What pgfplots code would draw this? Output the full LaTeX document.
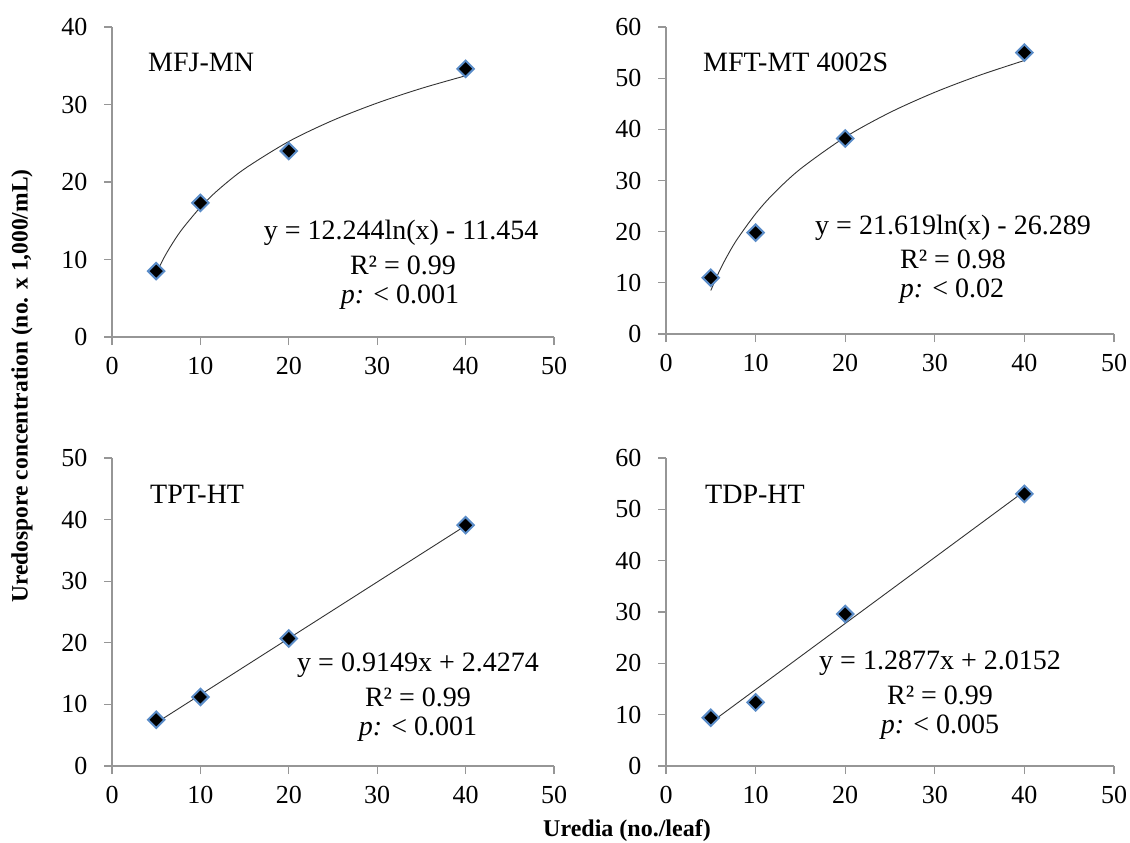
\documentclass[border=0pt]{standalone}
\usepackage{fontspec}
\setmainfont{Liberation Serif}
\usepackage{pgfplots}
\pgfplotsset{compat=1.18}
\definecolor{mkblue}{RGB}{90,140,200}
\definecolor{axgray}{RGB}{150,150,150}

\pgfplotsset{panel/.style={
    scale only axis, anchor=south west, clip=false,
    axis x line*=bottom, axis y line*=left,
    axis line style={draw=axgray, line width=1.3pt},
    every tick/.style={draw=axgray, line width=1.3pt},
    tick align=outside, major tick length=8pt,
    xmin=0, xmax=50, xtick={0,10,...,50}, ymin=0,
    tick label style={font=\fontsize{26}{28}\selectfont},
    /pgf/number format/assume math mode=true,
    xticklabel style={yshift=-9pt}, yticklabel style={xshift=-13pt},
  },
  pts/.style={only marks, mark=square*, mark size=5.8pt,
    mark options={rotate=45, fill=black, draw=mkblue, line width=2pt}},
  trend/.style={no marks, smooth, draw=black!80, line width=0.9pt},
}

\begin{document}
\begin{tikzpicture}
\useasboundingbox (0,0) rectangle (1130pt,-843pt);

% MFJ-MN
\begin{axis}[panel, at={(112pt,-337pt)}, width=442pt, height=310pt,
    ymax=40, ytick={0,10,...,40}]
  \addplot[trend] coordinates {(5,8.25) (6,10.48) (7,12.37) (8,14.01) (10,16.74)
    (12,18.97) (15,21.70) (20,25.23) (25,27.96) (30,30.19) (35,32.08) (40,33.71)};
  \addplot[pts] coordinates {(5,8.5) (10,17.3) (20,24.0) (40,34.6)};
\end{axis}

% MFT-MT 4002S
\begin{axis}[panel, at={(666pt,-334pt)}, width=448pt, height=307pt,
    ymax=60, ytick={0,10,...,60}]
  \addplot[trend] coordinates {(5,8.51) (6,12.45) (7,15.78) (8,18.67) (10,23.49)
    (12,27.43) (15,32.26) (20,38.48) (25,43.30) (30,47.24) (35,50.57) (40,53.46)};
  \addplot[pts] coordinates {(5,11.0) (10,19.8) (20,38.2) (40,55.0)};
\end{axis}

% TPT-HT
\begin{axis}[panel, at={(112pt,-766pt)}, width=442pt, height=308pt,
    ymax=50, ytick={0,10,...,50}]
  \addplot[trend] coordinates {(5,7.00) (40,39.02)};
  \addplot[pts] coordinates {(5,7.5) (10,11.2) (20,20.7) (40,39.1)};
\end{axis}

% TDP-HT
\begin{axis}[panel, at={(666pt,-766pt)}, width=448pt, height=308pt,
    ymax=60, ytick={0,10,...,60}]
  \addplot[trend] coordinates {(5,8.45) (40,53.52)};
  \addplot[pts] coordinates {(5,9.4) (10,12.4) (20,29.6) (40,53.0)};
\end{axis}

\begin{scope}[every node/.style={font=\fontsize{28}{30}\selectfont, anchor=west, inner sep=0pt}]
  \node at (148pt,-62pt) {MFJ-MN};
  \node at (703pt,-62pt) {MFT-MT 4002S};
  \node at (150pt,-494pt) {TPT-HT};
  \node at (705pt,-494pt) {TDP-HT};
\end{scope}

\begin{scope}[every node/.style={font=\fontsize{28}{30}\selectfont, inner sep=0pt}]
  \node at (401pt,-233pt) {y = 12.244ln(x) - 11.454};
  \node at (403pt,-265pt) {R² = 0.99};
  \node at (400pt,-297pt) {\textit{p:} < 0.001};
  \node at (953pt,-228pt) {y = 21.619ln(x) - 26.289};
  \node at (953pt,-259pt) {R² = 0.98};
  \node at (952pt,-291pt) {\textit{p:} < 0.02};
  \node at (418pt,-665pt) {y = 0.9149x + 2.4274};
  \node at (418pt,-697pt) {R² = 0.99};
  \node at (418pt,-729pt) {\textit{p:} < 0.001};
  \node at (940pt,-663pt) {y = 1.2877x + 2.0152};
  \node at (940pt,-695pt) {R² = 0.99};
  \node at (940pt,-727pt) {\textit{p:} < 0.005};
\end{scope}

\node[rotate=90, font=\bfseries\fontsize{23.5}{25}\selectfont] at (22pt,-386pt)
  {Uredospore concentration (no. x 1,000/mL)};
\node[font=\bfseries\fontsize{24}{26}\selectfont] at (627pt,-831pt) {Uredia (no./leaf)};
\end{tikzpicture}
\end{document}
